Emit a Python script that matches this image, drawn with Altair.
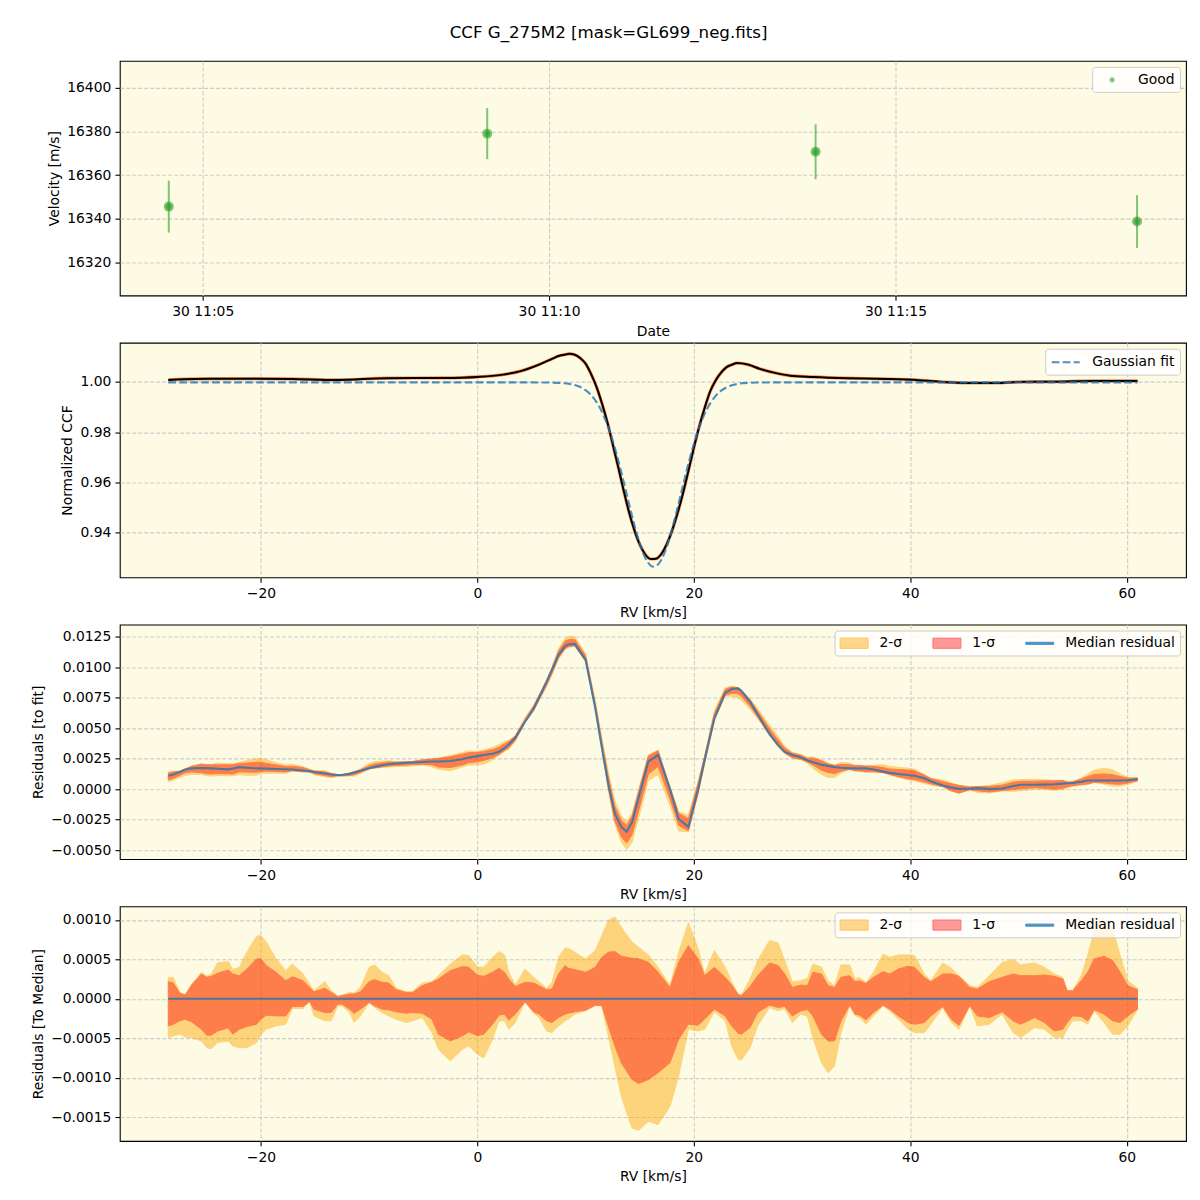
import altair as alt
import pandas as pd

FONT = "DejaVu Sans"
FS = 13.9
BG = "#fdfbe3"
GREEN = "#2ca02c"
BLUE = "#1f77b4"
W, H = 1068, 235

TITLE = "CCF G_275M2 [mask=GL699_neg.fits]"

# ---------------- Panel 1: velocities ----------------
OBS_TIME = ["2023-06-30T11:04:30.600Z", "2023-06-30T11:09:06.400Z",
            "2023-06-30T11:13:50.800Z", "2023-06-30T11:18:29.200Z"]
VEL = [16345.6, 16379.0, 16370.7, 16338.8]
VEL_ERR = [11.9, 11.7, 12.6, 12.1]
VEL_TICKS = [16320, 16340, 16360, 16380, 16400]

# ---------------- Panel 2: CCF and Gaussian fit ----------------
CCF_RV = [-28.56, -26.0, -20.7, -17.2, -13.0, -8.4, -3.1, 0.0, 2.2, 4.0,
          5.7, 7.0, 7.5, 8.0, 8.5, 9.0, 9.5, 10.0, 10.5, 11.0,
          11.5, 12.0, 12.5, 13.0, 13.5, 14.0, 14.5, 15.0, 15.5, 16.0,
          16.5, 17.0, 17.5, 18.0, 18.5, 19.0, 19.5, 20.0, 20.5, 21.0,
          21.5, 22.0, 22.5, 23.0, 23.5, 24.0, 25.0, 26.1, 27.5, 28.9,
          31.0, 34.2, 37.7, 40.8, 43.0, 45.1, 47.9, 50.0, 53.5, 57.0, 61.0]
CCF = [1.0008, 1.0012, 1.0013, 1.0012, 1.0008, 1.0015, 1.0016, 1.0020, 1.0028, 1.0043,
       1.0069, 1.0094, 1.0103, 1.0108, 1.0112, 1.0108, 1.0095, 1.0073, 1.0032, 0.9981,
       0.9916, 0.9841, 0.9753, 0.9664, 0.9571, 0.9484, 0.9411, 0.9353, 0.9314, 0.9295,
       0.9296, 0.9315, 0.9354, 0.9409, 0.9478, 0.9557, 0.9646, 0.9737, 0.9822, 0.9896,
       0.9961, 1.0005, 1.0036, 1.0058, 1.0068, 1.0075, 1.0069, 1.0052, 1.0036, 1.0025,
       1.0020, 1.0015, 1.0012, 1.0007, 1.0000, 0.9996, 0.9996, 1.0000, 1.0001, 1.0004, 1.0004]

FIT_RV = [-28.56, 5.0, 6.0, 7.0, 8.0, 8.5, 9.0, 9.5, 10.0, 10.5,
          11.0, 11.5, 12.0, 12.5, 13.0, 13.5, 14.0, 14.5, 15.0, 15.5,
          16.0, 16.3, 16.6, 17.0, 17.5, 18.0, 18.5, 19.0, 19.5, 20.0,
          20.5, 21.0, 21.5, 22.0, 22.5, 23.0, 23.5, 24.0, 25.0, 26.0,
          27.0, 61.0]
FIT = [0.9998, 0.9998, 0.99979, 0.99973, 0.99950, 0.99923, 0.99877, 0.99798, 0.99673, 0.99482,
       0.99204, 0.98818, 0.98308, 0.97668, 0.96908, 0.96060, 0.95172, 0.94316, 0.93569, 0.93007,
       0.92693, 0.92640, 0.92693, 0.92922, 0.93439, 0.94155, 0.94996, 0.95884, 0.96745, 0.97525,
       0.98190, 0.98726, 0.99136, 0.99435, 0.99641, 0.99777, 0.99864, 0.99916, 0.99963, 0.99976,
       0.9998, 0.9998]

# ---------------- Panels 3/4: residuals (units of 1e-4) ----------------
RES_RV = [-28.56, -28.1, -27.5, -27.0, -26.4, -25.5, -25.0, -24.6, -24.0, -23.0,
          -22.6, -22.0, -21.3, -20.4, -20.0, -19.5, -18.6, -17.7, -17.1, -16.1,
          -15.5, -15.1, -14.1, -13.5, -12.9, -12.5, -11.8, -11.4, -10.8, -10.0,
          -9.5, -8.8, -8.2, -7.5, -6.6, -6.0, -5.1, -4.2, -3.6, -2.5,
          -1.4, -0.8, 0.0, 0.6, 1.4, 2.0, 2.5, 2.9, 3.5, 4.4,
          5.2, 5.7, 6.4, 6.9, 7.5, 8.1, 8.4, 9.0, 10.0, 10.9,
          11.5, 12.1, 12.7, 13.3, 13.8, 14.3, 14.9, 15.8, 16.7, 17.8,
          18.6, 19.5, 20.4, 21.0, 21.9, 22.9, 23.5, 24.1, 24.4, 25.2,
          25.9, 27.0, 27.8, 28.4, 29.1, 29.9, 30.5, 31.0, 31.8, 32.4,
          33.0, 33.6, 34.4, 34.9, 35.3, 35.9, 36.6, 37.5, 38.1, 38.9,
          39.8, 40.4, 41.3, 41.9, 43.0, 43.8, 44.5, 45.5, 46.2, 47.3,
          48.5, 49.5, 50.2, 51.5, 52.4, 53.3, 54.1, 54.5, 55.0, 55.8,
          56.4, 57.0, 57.9, 58.7, 59.4, 60.1, 61.0]
MED_E4 = [11, 12, 14, 16, 17, 17.3, 17.2, 17, 16.7, 16.2,
          16.8, 18, 17.5, 17, 17, 16.8, 16.5, 16.2, 16, 15.2,
          14.5, 14, 12.8, 12, 11.5, 11.5, 12.5, 13.5, 15, 17,
          18.2, 19.5, 20.3, 21, 21.5, 21.8, 22.2, 22.6, 22.6, 23,
          24.5, 25.8, 27, 28, 29, 30.5, 33.5, 36.5, 42, 55,
          66, 75, 88, 98, 110, 117, 118.5, 119, 106, 66,
          34, 4, -20, -31, -35, -27, -7, 22.6, 28, 0,
          -24.5, -31, 0, 24, 58, 79, 82, 82.5, 80.5, 71.5,
          61, 45, 36, 30.5, 28, 26, 23.5, 22, 20, 19,
          18, 17.5, 17, 17, 17, 17, 16, 14.3, 13.3, 12.3,
          11.5, 11, 8.8, 6.5, 3, 1.2, 0.2, 0.3, 0.8, 0,
          0.5, 2.5, 3.5, 3.5, 3.7, 4, 4.5, 4.8, 5, 6,
          7, 7, 7, 7, 7, 7.2, 8]
UP2_E4 = [2.72, 2.72, 0.81, 0.47, 1.87, 3.36, 2.85, 3.14, 4.55, 4.72,
          3.70, 3.99, 5.90, 7.94, 8.03, 7.18, 5.06, 3.57, 4.42, 3.14,
          1.87, 1.02, 2.17, 1.02, 0.30, 0.47, 0.81, 0.72, 1.44, 3.99,
          4.29, 3.36, 2.93, 1.32, 0.89, 0.89, 2.00, 2.17, 2.93, 4.42,
          5.56, 5.48, 4.04, 3.99, 5.27, 5.99, 5.56, 3.36, 1.74, 3.78,
          2.72, 2.17, 1.32, 2.08, 5.27, 6.41, 6.41, 5.90, 5.06, 6.12,
          8.03, 9.94, 10.37, 9.09, 8.10, 7.18, 6.54, 5.56, 3.99, 1.66,
          5.90, 9.64, 6.33, 3.14, 6.12, 3.99, 2.17, 0.59, 0.47, 2.51,
          4.84, 7.39, 7.09, 4.84, 2.17, 2.29, 2.59, 4.42, 3.99, 2.29,
          1.66, 4.29, 4.29, 2.51, 2.72, 2.00, 3.36, 5.69, 5.27, 5.56,
          5.56, 5.48, 3.14, 2.29, 4.55, 3.87, 2.93, 1.66, 1.44, 2.93,
          4.63, 4.97, 4.29, 4.55, 3.99, 3.14, 2.72, 1.02, 1.02, 2.93,
          5.48, 8.67, 10.15, 8.88, 5.48, 2.29, 1.32]
UP1_E4 = [2.17, 2.00, 0.72, 0.47, 1.74, 3.14, 2.72, 2.85, 3.23, 3.65,
          3.14, 2.93, 3.78, 5.06, 5.06, 4.21, 3.36, 2.29, 2.80, 2.29,
          1.44, 0.89, 1.32, 0.81, 0.30, 0.38, 0.59, 0.59, 0.89, 2.17,
          2.42, 2.08, 2.00, 1.15, 0.81, 0.81, 1.66, 2.08, 2.51, 3.57,
          4.08, 3.99, 2.97, 2.85, 3.36, 3.87, 3.36, 2.51, 1.57, 2.08,
          2.00, 1.66, 1.15, 1.23, 3.14, 4.21, 3.87, 3.70, 3.36, 3.99,
          5.27, 5.90, 5.99, 5.40, 5.27, 5.14, 5.06, 4.63, 3.36, 1.44,
          4.63, 6.75, 5.06, 2.93, 3.99, 2.72, 1.74, 0.55, 0.38, 1.57,
          2.93, 4.55, 4.21, 3.14, 1.44, 1.74, 1.66, 3.36, 3.14, 1.66,
          1.44, 2.72, 2.93, 2.17, 2.29, 1.95, 2.72, 3.44, 3.14, 3.78,
          4.12, 3.99, 2.72, 2.17, 3.14, 3.14, 2.85, 1.44, 1.23, 2.17,
          2.72, 3.14, 2.93, 2.93, 3.02, 2.85, 2.51, 1.02, 1.02, 2.29,
          3.36, 5.06, 5.40, 4.84, 3.36, 1.66, 1.15]
LO1_E4 = [-3.44, -3.23, -2.80, -2.59, -2.93, -3.87, -4.63, -4.63, -4.08, -3.70,
          -4.50, -3.87, -3.53, -3.23, -2.59, -2.08, -2.17, -2.17, -0.98, -0.98,
          -0.34, -1.32, -1.74, -1.74, -0.68, -0.68, -1.32, -1.83, -1.32, -0.47,
          -0.89, -1.32, -1.40, -1.66, -1.83, -1.74, -1.83, -2.59, -4.50, -5.35,
          -4.72, -4.21, -4.67, -4.50, -3.23, -2.08, -1.95, -2.72, -1.95, -0.38,
          -1.66, -1.95, -2.80, -3.02, -2.38, -1.95, -1.83, -1.66, -1.44, -0.81,
          -0.89, -3.44, -5.99, -8.11, -9.20, -10.24, -10.75, -10.24, -9.39, -8.11,
          -5.14, -3.23, -3.36, -2.59, -1.32, -2.17, -3.44, -4.38, -4.50, -3.65,
          -1.74, -0.81, -1.10, -0.98, -2.17, -1.53, -1.36, -2.17, -4.50, -5.35,
          -5.35, -2.80, -0.81, -1.95, -2.08, -2.68, -1.74, -0.81, -1.32, -2.17,
          -3.02, -3.23, -3.02, -2.17, -0.98, -2.59, -3.36, -0.89, -2.17, -2.38,
          -1.66, -2.80, -3.23, -2.38, -3.02, -4.08, -3.87, -3.02, -2.17, -2.25,
          -2.80, -1.40, -1.95, -2.80, -3.02, -2.17, -1.32]
LO2_E4 = [-4.93, -4.72, -4.50, -4.84, -4.93, -5.35, -6.20, -6.33, -5.56, -5.35,
          -5.99, -6.20, -6.20, -5.56, -4.50, -3.87, -3.44, -3.23, -1.23, -1.23,
          -0.34, -2.17, -2.80, -2.80, -0.89, -0.89, -1.74, -3.02, -2.17, -0.47,
          -1.10, -1.74, -2.17, -2.59, -3.02, -2.80, -2.38, -4.29, -6.41, -7.90,
          -6.41, -5.99, -7.05, -7.48, -5.14, -2.80, -2.80, -3.87, -3.02, -0.38,
          -1.83, -2.38, -4.08, -4.29, -3.44, -2.80, -2.59, -1.95, -1.53, -0.89,
          -0.89, -4.72, -8.54, -12.36, -14.50, -16.40, -16.69, -15.55, -15.97, -13.64,
          -9.81, -3.87, -4.08, -3.87, -1.66, -2.80, -5.99, -7.69, -7.77, -6.20,
          -3.44, -1.10, -1.53, -1.23, -3.02, -1.95, -2.25, -4.93, -8.11, -9.39,
          -8.54, -4.29, -0.89, -2.17, -2.38, -3.23, -2.17, -0.89, -1.53, -2.59,
          -3.87, -4.29, -4.29, -3.23, -1.10, -3.02, -3.87, -0.89, -3.44, -3.23,
          -1.95, -4.29, -4.93, -3.65, -3.87, -4.93, -4.93, -3.87, -2.80, -2.80,
          -3.23, -1.53, -3.02, -4.50, -4.50, -3.44, -1.32]

RV_TICKS = [-20, 0, 20, 40, 60]
RV_DOMAIN = [-33.04, 65.48]

# legend entries (symbol paths are 28 px wide with symbolSize 196)
SERIES = ["2-σ", "1-σ", "Median residual"]
SERIES_FILL = ["#ffd68c", "#ff9999", "#4b92c3"]
SERIES_EDGE = ["#ffc25a", "#ff6e6e", "#4b92c3"]
RECT = "M-2,-0.72H2V0.72H-2Z"
THIN = "M-2,-0.15H2V0.15H-2Z"
DOT = "M0.36,0A0.36,0.36,0,1,1,-0.36,0A0.36,0.36,0,1,1,0.36,0Z"
DASH = "M-2,0H2"


# ---------------- helpers ----------------
def dt(h, m, s=0, ms=0):
    return alt.DateTime(year=2023, month=6, date=30, hours=h, minutes=m,
                        seconds=s, milliseconds=ms, utc=True)


def make_legend(**kw):
    return alt.Legend(
        title=None, orient="top-right", offset=6, padding=5,
        labelFont=FONT, labelFontSize=FS, labelColor="black",
        labelOffset=18, symbolOffset=7,
        symbolSize=196, fillColor="rgba(255,255,255,0.8)", strokeColor="#cccccc",
        cornerRadius=3, **kw)


# ---------------- Panel 1 ----------------
df1 = pd.DataFrame({"time": OBS_TIME, "vel": VEL, "err": VEL_ERR})
df1["lo"] = df1["vel"] - df1["err"]
df1["hi"] = df1["vel"] + df1["err"]
df1["label"] = "Good"

x_time = alt.X("time:T", title="Date",
               scale=alt.Scale(type="utc", domain=[dt(11, 3, 48, 200), dt(11, 19, 11, 600)]),
               axis=alt.Axis(values=[dt(11, 5), dt(11, 10), dt(11, 15)],
                             labelExpr="utcFormat(datum.value, '%d %H:%M')"))
vel_scale = alt.Scale(domain=[16304.9, 16412.3], nice=False, zero=False)
vel_axis = alt.Axis(values=VEL_TICKS, format="d")
y_vel = alt.Y("vel:Q", title="Velocity [m/s]", scale=vel_scale, axis=vel_axis)

good_legend = make_legend()
base1 = alt.Chart(df1)
bars = base1.mark_rule(color=GREEN, opacity=0.6, strokeWidth=2).encode(
    x=x_time,
    y=alt.Y("lo:Q", title="Velocity [m/s]", scale=vel_scale, axis=vel_axis),
    y2="hi:Q")
outer = base1.mark_circle(size=100, opacity=0.6, color=GREEN).encode(x=x_time, y=y_vel)
inner = base1.mark_circle(size=36, opacity=0.6, color=GREEN).encode(x=x_time, y=y_vel)
good_key = base1.transform_filter("false").mark_point(filled=True, opacity=0.6).encode(
    x=x_time, y=y_vel,
    color=alt.Color("label:N", scale=alt.Scale(domain=["Good"], range=[GREEN]), legend=good_legend),
    shape=alt.Shape("label:N", scale=alt.Scale(domain=["Good"], range=[DOT]), legend=good_legend))
p1 = alt.layer(bars, outer, inner, good_key).properties(width=W, height=H)

# ---------------- Panel 2 ----------------
df_ccf = pd.DataFrame({"rv": CCF_RV, "ccf": CCF})
df_fit = pd.DataFrame({"rv": FIT_RV, "fit": FIT, "label": "Gaussian fit"})

rv_scale = alt.Scale(domain=RV_DOMAIN, nice=False, zero=False)
rv_axis = alt.Axis(values=RV_TICKS, format="d")
x_rv = alt.X("rv:Q", title="RV [km/s]", scale=rv_scale, axis=rv_axis)

ccf_scale = alt.Scale(domain=[0.9222, 1.0156], nice=False, zero=False)
ccf_axis = alt.Axis(values=[0.94, 0.96, 0.98, 1.00], format=".2f")

fit_legend = make_legend(symbolType=DASH, symbolStrokeWidth=2.1, symbolDash=[7.7, 3.3])

y_ccf = alt.Y("ccf:Q", title="Normalized CCF", scale=ccf_scale, axis=ccf_axis)
ccf_orange = alt.Chart(df_ccf).mark_line(color="#ff7a3a", strokeWidth=3.2, opacity=0.9,
                                         interpolate="monotone").encode(x=x_rv, y=y_ccf)
ccf_black = alt.Chart(df_ccf).mark_line(color="black", strokeWidth=2,
                                        interpolate="monotone").encode(x=x_rv, y=y_ccf)
fit_line = alt.Chart(df_fit).mark_line(strokeWidth=2.1, strokeDash=[7.7, 3.3], opacity=0.8,
                                       interpolate="monotone").encode(
    x=x_rv,
    y=alt.Y("fit:Q", title="Normalized CCF", scale=ccf_scale, axis=ccf_axis),
    color=alt.Color("label:N", scale=alt.Scale(domain=["Gaussian fit"], range=[BLUE]),
                    legend=fit_legend))
p2 = alt.layer(ccf_orange, ccf_black, fit_line).properties(width=W, height=H)

# ---------------- Panels 3 & 4 ----------------
E4 = 1e-4
med = pd.Series(MED_E4) * E4
up2 = pd.Series(UP2_E4) * E4
up1 = pd.Series(UP1_E4) * E4
lo1 = pd.Series(LO1_E4) * E4
lo2 = pd.Series(LO2_E4) * E4

df3 = pd.DataFrame({"rv": RES_RV, "med": med, "hi2": med + up2, "hi1": med + up1,
                    "lo1": med + lo1, "lo2": med + lo2})
df4 = pd.DataFrame({"rv": RES_RV, "med": 0.0 * med, "hi2": up2, "hi1": up1,
                    "lo1": lo1, "lo2": lo2})
df4["series"] = "Median residual"
df3["series"] = "Median residual"

band_legend = make_legend(direction="horizontal", columns=3, columnPadding=28,
                          symbolStrokeWidth=1)


def band_panel(df, ydomain, yticks, ytitle):
    ysc = alt.Scale(domain=ydomain, nice=False, zero=False)
    yax = alt.Axis(values=yticks, format=".4f")
    base = alt.Chart(df)
    b2 = base.mark_area(color="#ffa500", opacity=0.45, stroke="#ffa500", strokeWidth=1).encode(
        x=x_rv, y=alt.Y("lo2:Q", title=ytitle, scale=ysc, axis=yax), y2="hi2:Q")
    b1 = base.mark_area(color="#ff0000", opacity=0.4, stroke="#ff0000", strokeWidth=1).encode(
        x=x_rv, y=alt.Y("lo1:Q", title=ytitle, scale=ysc, axis=yax), y2="hi1:Q")
    ml = base.mark_line(color=BLUE, strokeWidth=2.1, opacity=0.8).encode(
        x=x_rv, y=alt.Y("med:Q", title=ytitle, scale=ysc, axis=yax))
    key = base.transform_filter("false").mark_point(filled=True, opacity=1).encode(
        x=x_rv, y=alt.Y("med:Q", title=ytitle, scale=ysc, axis=yax),
        color=alt.Color("series:N", scale=alt.Scale(domain=SERIES, range=SERIES_FILL),
                        legend=band_legend),
        stroke=alt.Stroke("series:N", scale=alt.Scale(domain=SERIES, range=SERIES_EDGE),
                          legend=band_legend),
        shape=alt.Shape("series:N", scale=alt.Scale(domain=SERIES, range=[RECT, RECT, THIN]),
                        legend=band_legend))
    return alt.layer(b2, b1, ml, key).properties(width=W, height=H)


p3 = band_panel(df3, [-0.00574, 0.01348],
                [-0.005, -0.0025, 0.0, 0.0025, 0.005, 0.0075, 0.01, 0.0125],
                "Residuals [to fit]")
p4 = band_panel(df4, [-0.001804, 0.001172],
                [-0.0015, -0.001, -0.0005, 0.0, 0.0005, 0.001],
                "Residuals [To Median]")

chart = alt.vconcat(p1, p2, p3, p4, spacing=47.3, bounds="flush").properties(
    title=alt.Title(TITLE, font=FONT, fontSize=16.7, fontWeight="normal", color="black",
                    anchor="middle", offset=19),
    padding={"left": 22, "top": 15, "right": 5, "bottom": 5},
    background="white",
).resolve_scale(
    x="independent", y="independent", color="independent",
    shape="independent", stroke="independent"
).resolve_legend(
    color="independent", shape="independent", stroke="independent"
).configure_axis(
    labelFont=FONT, labelFontSize=FS, labelColor="black",
    titleFont=FONT, titleFontSize=FS, titleFontWeight="normal", titleColor="black",
    tickColor="black", tickSize=4.86, tickWidth=1.1, labelPadding=4.2, titlePadding=5.6,
    domain=False, grid=True, gridColor="#cccccc", gridDash=[4, 2], gridWidth=1.1,
    labelFlush=False,
).configure_view(fill=BG, stroke="black", strokeWidth=1.1)

chart.save("out.html", embed_options={"renderer": "svg", "actions": False})
